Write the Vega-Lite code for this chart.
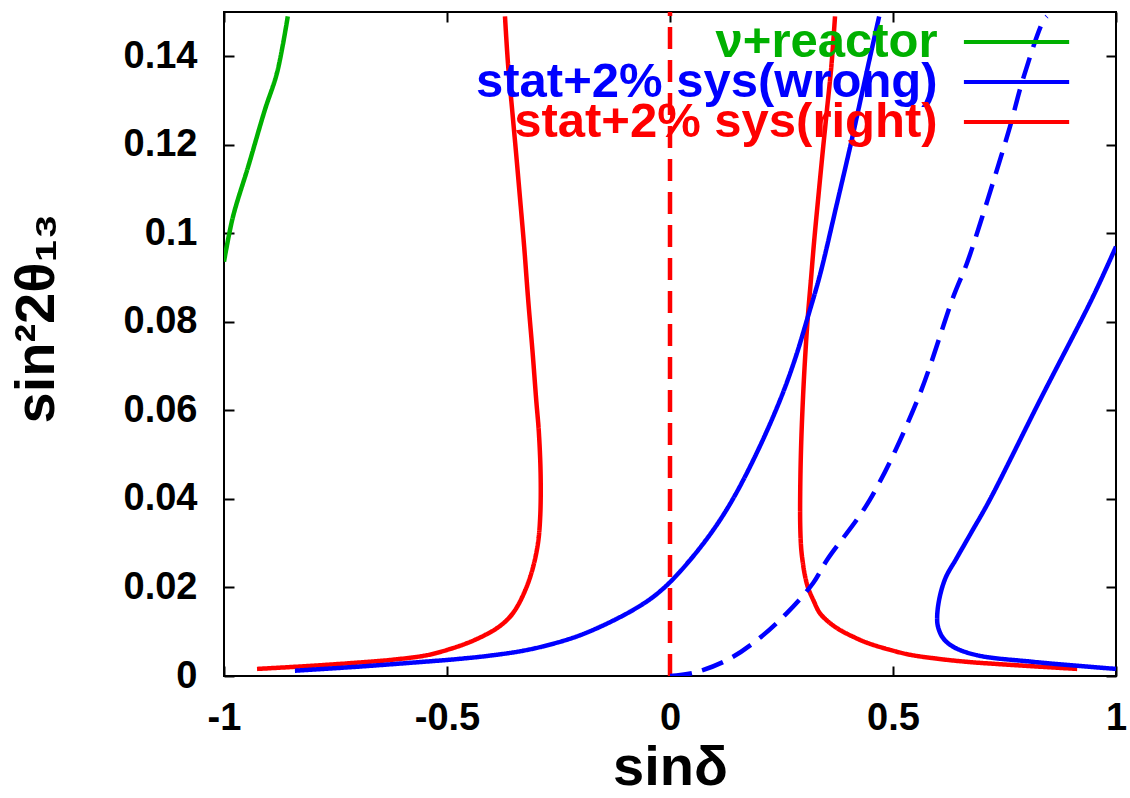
{
  "$schema": "https://vega.github.io/schema/vega-lite/v6.json",
  "autosize": {"type": "none"},
  "padding": {"left": 224, "top": 12, "right": 14, "bottom": 122},
  "width": 892,
  "height": 664,
  "background": "white",
  "config": {
    "view": {"stroke": "#000000", "strokeWidth": 2},
    "axis": {
      "grid": false,
      "domain": false,
      "tickSize": -10,
      "tickWidth": 2,
      "tickColor": "#000000",
      "labelFont": "Liberation Sans",
      "labelFontSize": 38,
      "labelFontWeight": "bold",
      "labelColor": "#000000",
      "titleFont": "Liberation Sans",
      "titleFontSize": 56,
      "titleFontWeight": "bold",
      "titleColor": "#000000"
    }
  },
  "datasets": {
    "key": [
      {"series": "ν+reactor"},
      {"series": "stat+2% sys(wrong)"},
      {"series": "stat+2% sys(right)"}
    ],
    "curves": [
      {"part": "g", "series": "ν+reactor", "style": "solid", "i": 0, "x": -1.0, "y": 0.0936},
      {"part": "g", "series": "ν+reactor", "style": "solid", "i": 1, "x": -0.98, "y": 0.1037},
      {"part": "g", "series": "ν+reactor", "style": "solid", "i": 2, "x": -0.946, "y": 0.115},
      {"part": "g", "series": "ν+reactor", "style": "solid", "i": 3, "x": -0.908, "y": 0.128},
      {"part": "g", "series": "ν+reactor", "style": "solid", "i": 4, "x": -0.881, "y": 0.1363},
      {"part": "g", "series": "ν+reactor", "style": "solid", "i": 5, "x": -0.857, "y": 0.149},

      {"part": "rl", "series": "stat+2% sys(right)", "style": "solid", "i": 0, "x": -0.926, "y": 0.0016},
      {"part": "rl", "series": "stat+2% sys(right)", "style": "solid", "i": 1, "x": -0.82, "y": 0.0022},
      {"part": "rl", "series": "stat+2% sys(right)", "style": "solid", "i": 2, "x": -0.717, "y": 0.0029},
      {"part": "rl", "series": "stat+2% sys(right)", "style": "solid", "i": 3, "x": -0.62, "y": 0.0037},
      {"part": "rl", "series": "stat+2% sys(right)", "style": "solid", "i": 4, "x": -0.545, "y": 0.0047},
      {"part": "rl", "series": "stat+2% sys(right)", "style": "solid", "i": 5, "x": -0.49, "y": 0.0062},
      {"part": "rl", "series": "stat+2% sys(right)", "style": "solid", "i": 6, "x": -0.448, "y": 0.0077},
      {"part": "rl", "series": "stat+2% sys(right)", "style": "solid", "i": 7, "x": -0.41, "y": 0.0095},
      {"part": "rl", "series": "stat+2% sys(right)", "style": "solid", "i": 8, "x": -0.388, "y": 0.0108},
      {"part": "rl", "series": "stat+2% sys(right)", "style": "solid", "i": 9, "x": -0.362, "y": 0.013},
      {"part": "rl", "series": "stat+2% sys(right)", "style": "solid", "i": 10, "x": -0.343, "y": 0.0156},
      {"part": "rl", "series": "stat+2% sys(right)", "style": "solid", "i": 11, "x": -0.322, "y": 0.02},
      {"part": "rl", "series": "stat+2% sys(right)", "style": "solid", "i": 12, "x": -0.307, "y": 0.0246},
      {"part": "rl", "series": "stat+2% sys(right)", "style": "solid", "i": 13, "x": -0.296, "y": 0.03},
      {"part": "rl", "series": "stat+2% sys(right)", "style": "solid", "i": 14, "x": -0.291, "y": 0.036},
      {"part": "rl", "series": "stat+2% sys(right)", "style": "solid", "i": 15, "x": -0.29, "y": 0.045},
      {"part": "rl", "series": "stat+2% sys(right)", "style": "solid", "i": 16, "x": -0.294, "y": 0.055},
      {"part": "rl", "series": "stat+2% sys(right)", "style": "solid", "i": 17, "x": -0.3, "y": 0.0624},
      {"part": "rl", "series": "stat+2% sys(right)", "style": "solid", "i": 18, "x": -0.308, "y": 0.073},
      {"part": "rl", "series": "stat+2% sys(right)", "style": "solid", "i": 19, "x": -0.318, "y": 0.085},
      {"part": "rl", "series": "stat+2% sys(right)", "style": "solid", "i": 20, "x": -0.327, "y": 0.097},
      {"part": "rl", "series": "stat+2% sys(right)", "style": "solid", "i": 21, "x": -0.336, "y": 0.1076},
      {"part": "rl", "series": "stat+2% sys(right)", "style": "solid", "i": 22, "x": -0.345, "y": 0.118},
      {"part": "rl", "series": "stat+2% sys(right)", "style": "solid", "i": 23, "x": -0.354, "y": 0.128},
      {"part": "rl", "series": "stat+2% sys(right)", "style": "solid", "i": 24, "x": -0.363, "y": 0.138},
      {"part": "rl", "series": "stat+2% sys(right)", "style": "solid", "i": 25, "x": -0.37, "y": 0.149},

      {"part": "rr", "series": "stat+2% sys(right)", "style": "solid", "i": 0, "x": 0.37, "y": 0.149},
      {"part": "rr", "series": "stat+2% sys(right)", "style": "solid", "i": 1, "x": 0.362, "y": 0.138},
      {"part": "rr", "series": "stat+2% sys(right)", "style": "solid", "i": 2, "x": 0.352, "y": 0.128},
      {"part": "rr", "series": "stat+2% sys(right)", "style": "solid", "i": 3, "x": 0.342, "y": 0.118},
      {"part": "rr", "series": "stat+2% sys(right)", "style": "solid", "i": 4, "x": 0.332, "y": 0.1076},
      {"part": "rr", "series": "stat+2% sys(right)", "style": "solid", "i": 5, "x": 0.323, "y": 0.098},
      {"part": "rr", "series": "stat+2% sys(right)", "style": "solid", "i": 6, "x": 0.316, "y": 0.0895},
      {"part": "rr", "series": "stat+2% sys(right)", "style": "solid", "i": 7, "x": 0.309, "y": 0.0811},
      {"part": "rr", "series": "stat+2% sys(right)", "style": "solid", "i": 8, "x": 0.303, "y": 0.072},
      {"part": "rr", "series": "stat+2% sys(right)", "style": "solid", "i": 9, "x": 0.298, "y": 0.0624},
      {"part": "rr", "series": "stat+2% sys(right)", "style": "solid", "i": 10, "x": 0.294, "y": 0.052},
      {"part": "rr", "series": "stat+2% sys(right)", "style": "solid", "i": 11, "x": 0.292, "y": 0.042},
      {"part": "rr", "series": "stat+2% sys(right)", "style": "solid", "i": 12, "x": 0.292, "y": 0.034},
      {"part": "rr", "series": "stat+2% sys(right)", "style": "solid", "i": 13, "x": 0.294, "y": 0.029},
      {"part": "rr", "series": "stat+2% sys(right)", "style": "solid", "i": 14, "x": 0.297, "y": 0.0262},
      {"part": "rr", "series": "stat+2% sys(right)", "style": "solid", "i": 15, "x": 0.302, "y": 0.023},
      {"part": "rr", "series": "stat+2% sys(right)", "style": "solid", "i": 16, "x": 0.309, "y": 0.0201},
      {"part": "rr", "series": "stat+2% sys(right)", "style": "solid", "i": 17, "x": 0.322, "y": 0.017},
      {"part": "rr", "series": "stat+2% sys(right)", "style": "solid", "i": 18, "x": 0.336, "y": 0.0142},
      {"part": "rr", "series": "stat+2% sys(right)", "style": "solid", "i": 19, "x": 0.357, "y": 0.0121},
      {"part": "rr", "series": "stat+2% sys(right)", "style": "solid", "i": 20, "x": 0.381, "y": 0.0104},
      {"part": "rr", "series": "stat+2% sys(right)", "style": "solid", "i": 21, "x": 0.41, "y": 0.0089},
      {"part": "rr", "series": "stat+2% sys(right)", "style": "solid", "i": 22, "x": 0.442, "y": 0.0075},
      {"part": "rr", "series": "stat+2% sys(right)", "style": "solid", "i": 23, "x": 0.49, "y": 0.006},
      {"part": "rr", "series": "stat+2% sys(right)", "style": "solid", "i": 24, "x": 0.538, "y": 0.0048},
      {"part": "rr", "series": "stat+2% sys(right)", "style": "solid", "i": 25, "x": 0.6, "y": 0.0039},
      {"part": "rr", "series": "stat+2% sys(right)", "style": "solid", "i": 26, "x": 0.666, "y": 0.0032},
      {"part": "rr", "series": "stat+2% sys(right)", "style": "solid", "i": 27, "x": 0.75, "y": 0.0026},
      {"part": "rr", "series": "stat+2% sys(right)", "style": "solid", "i": 28, "x": 0.83, "y": 0.0021},
      {"part": "rr", "series": "stat+2% sys(right)", "style": "solid", "i": 29, "x": 0.913, "y": 0.0016},

      {"part": "rd", "series": "stat+2% sys(right)", "style": "dashed", "i": 0, "x": 0.0, "y": 0.0},
      {"part": "rd", "series": "stat+2% sys(right)", "style": "dashed", "i": 1, "x": 0.0, "y": 0.15},

      {"part": "bs", "series": "stat+2% sys(wrong)", "style": "solid", "i": 0, "x": -0.841, "y": 0.0012},
      {"part": "bs", "series": "stat+2% sys(wrong)", "style": "solid", "i": 1, "x": -0.7, "y": 0.0021},
      {"part": "bs", "series": "stat+2% sys(wrong)", "style": "solid", "i": 2, "x": -0.567, "y": 0.0031},
      {"part": "bs", "series": "stat+2% sys(wrong)", "style": "solid", "i": 3, "x": -0.48, "y": 0.0038},
      {"part": "bs", "series": "stat+2% sys(wrong)", "style": "solid", "i": 4, "x": -0.404, "y": 0.0046},
      {"part": "bs", "series": "stat+2% sys(wrong)", "style": "solid", "i": 5, "x": -0.33, "y": 0.0057},
      {"part": "bs", "series": "stat+2% sys(wrong)", "style": "solid", "i": 6, "x": -0.269, "y": 0.0071},
      {"part": "bs", "series": "stat+2% sys(wrong)", "style": "solid", "i": 7, "x": -0.21, "y": 0.0089},
      {"part": "bs", "series": "stat+2% sys(wrong)", "style": "solid", "i": 8, "x": -0.157, "y": 0.0111},
      {"part": "bs", "series": "stat+2% sys(wrong)", "style": "solid", "i": 9, "x": -0.09, "y": 0.0145},
      {"part": "bs", "series": "stat+2% sys(wrong)", "style": "solid", "i": 10, "x": -0.04, "y": 0.0177},
      {"part": "bs", "series": "stat+2% sys(wrong)", "style": "solid", "i": 11, "x": 0.0, "y": 0.0212},
      {"part": "bs", "series": "stat+2% sys(wrong)", "style": "solid", "i": 12, "x": 0.045, "y": 0.0262},
      {"part": "bs", "series": "stat+2% sys(wrong)", "style": "solid", "i": 13, "x": 0.095, "y": 0.0327},
      {"part": "bs", "series": "stat+2% sys(wrong)", "style": "solid", "i": 14, "x": 0.14, "y": 0.0398},
      {"part": "bs", "series": "stat+2% sys(wrong)", "style": "solid", "i": 15, "x": 0.195, "y": 0.0505},
      {"part": "bs", "series": "stat+2% sys(wrong)", "style": "solid", "i": 16, "x": 0.247, "y": 0.0624},
      {"part": "bs", "series": "stat+2% sys(wrong)", "style": "solid", "i": 17, "x": 0.28, "y": 0.0715},
      {"part": "bs", "series": "stat+2% sys(wrong)", "style": "solid", "i": 18, "x": 0.309, "y": 0.0811},
      {"part": "bs", "series": "stat+2% sys(wrong)", "style": "solid", "i": 19, "x": 0.336, "y": 0.0905},
      {"part": "bs", "series": "stat+2% sys(wrong)", "style": "solid", "i": 20, "x": 0.374, "y": 0.1066},
      {"part": "bs", "series": "stat+2% sys(wrong)", "style": "solid", "i": 21, "x": 0.405, "y": 0.12},
      {"part": "bs", "series": "stat+2% sys(wrong)", "style": "solid", "i": 22, "x": 0.428, "y": 0.1305},
      {"part": "bs", "series": "stat+2% sys(wrong)", "style": "solid", "i": 23, "x": 0.45, "y": 0.1405},
      {"part": "bs", "series": "stat+2% sys(wrong)", "style": "solid", "i": 24, "x": 0.469, "y": 0.149},

      {"part": "bd", "series": "stat+2% sys(wrong)", "style": "dashed", "i": 0, "x": 0.0, "y": 0.0},
      {"part": "bd", "series": "stat+2% sys(wrong)", "style": "dashed", "i": 1, "x": 0.052, "y": 0.0007},
      {"part": "bd", "series": "stat+2% sys(wrong)", "style": "dashed", "i": 2, "x": 0.128, "y": 0.0036},
      {"part": "bd", "series": "stat+2% sys(wrong)", "style": "dashed", "i": 3, "x": 0.195, "y": 0.0081},
      {"part": "bd", "series": "stat+2% sys(wrong)", "style": "dashed", "i": 4, "x": 0.262, "y": 0.0142},
      {"part": "bd", "series": "stat+2% sys(wrong)", "style": "dashed", "i": 5, "x": 0.321, "y": 0.021},
      {"part": "bd", "series": "stat+2% sys(wrong)", "style": "dashed", "i": 6, "x": 0.352, "y": 0.0262},
      {"part": "bd", "series": "stat+2% sys(wrong)", "style": "dashed", "i": 7, "x": 0.448, "y": 0.0398},
      {"part": "bd", "series": "stat+2% sys(wrong)", "style": "dashed", "i": 8, "x": 0.555, "y": 0.0624},
      {"part": "bd", "series": "stat+2% sys(wrong)", "style": "dashed", "i": 9, "x": 0.635, "y": 0.0856},
      {"part": "bd", "series": "stat+2% sys(wrong)", "style": "dashed", "i": 10, "x": 0.666, "y": 0.0933},
      {"part": "bd", "series": "stat+2% sys(wrong)", "style": "dashed", "i": 11, "x": 0.7, "y": 0.1037},
      {"part": "bd", "series": "stat+2% sys(wrong)", "style": "dashed", "i": 12, "x": 0.724, "y": 0.1114},
      {"part": "bd", "series": "stat+2% sys(wrong)", "style": "dashed", "i": 13, "x": 0.762, "y": 0.124},
      {"part": "bd", "series": "stat+2% sys(wrong)", "style": "dashed", "i": 14, "x": 0.791, "y": 0.1347},
      {"part": "bd", "series": "stat+2% sys(wrong)", "style": "dashed", "i": 15, "x": 0.836, "y": 0.1478},
      {"part": "bd", "series": "stat+2% sys(wrong)", "style": "dashed", "i": 16, "x": 0.845, "y": 0.149},

      {"part": "br", "series": "stat+2% sys(wrong)", "style": "solid", "i": 0, "x": 1.0, "y": 0.0016},
      {"part": "br", "series": "stat+2% sys(wrong)", "style": "solid", "i": 1, "x": 0.814, "y": 0.0032},
      {"part": "br", "series": "stat+2% sys(wrong)", "style": "solid", "i": 2, "x": 0.688, "y": 0.0047},
      {"part": "br", "series": "stat+2% sys(wrong)", "style": "solid", "i": 3, "x": 0.635, "y": 0.0066},
      {"part": "br", "series": "stat+2% sys(wrong)", "style": "solid", "i": 4, "x": 0.612, "y": 0.0086},
      {"part": "br", "series": "stat+2% sys(wrong)", "style": "solid", "i": 5, "x": 0.601, "y": 0.0111},
      {"part": "br", "series": "stat+2% sys(wrong)", "style": "solid", "i": 6, "x": 0.599, "y": 0.0133},
      {"part": "br", "series": "stat+2% sys(wrong)", "style": "solid", "i": 7, "x": 0.604, "y": 0.0175},
      {"part": "br", "series": "stat+2% sys(wrong)", "style": "solid", "i": 8, "x": 0.618, "y": 0.0222},
      {"part": "br", "series": "stat+2% sys(wrong)", "style": "solid", "i": 9, "x": 0.642, "y": 0.0265},
      {"part": "br", "series": "stat+2% sys(wrong)", "style": "solid", "i": 10, "x": 0.676, "y": 0.0325},
      {"part": "br", "series": "stat+2% sys(wrong)", "style": "solid", "i": 11, "x": 0.717, "y": 0.0398},
      {"part": "br", "series": "stat+2% sys(wrong)", "style": "solid", "i": 12, "x": 0.83, "y": 0.0624},
      {"part": "br", "series": "stat+2% sys(wrong)", "style": "solid", "i": 13, "x": 0.948, "y": 0.0856},
      {"part": "br", "series": "stat+2% sys(wrong)", "style": "solid", "i": 14, "x": 1.0, "y": 0.097}
    ]
  },
  "layer": [
    {
      "data": {"name": "curves"},
      "mark": {"type": "line", "strokeWidth": 4.5, "interpolate": "catmull-rom", "clip": true},
      "encoding": {
        "x": {
          "field": "x", "type": "quantitative",
          "scale": {"domain": [-1, 1], "nice": false, "zero": false},
          "axis": {
            "orient": "bottom",
            "values": [-1, -0.5, 0, 0.5, 1],
            "labelExpr": "'' + datum.value",
            "labelPadding": 33,
            "labelFlush": false,
            "title": "sinδ",
            "titleBaseline": "alphabetic",
            "titleY": 108
          }
        },
        "y": {
          "field": "y", "type": "quantitative",
          "scale": {"domain": [0, 0.15], "nice": false},
          "axis": {
            "orient": "left",
            "values": [0, 0.02, 0.04, 0.06, 0.08, 0.1, 0.12, 0.14],
            "labelExpr": "'' + datum.value",
            "labelPadding": 37,
            "labelFlush": false,
            "title": "sin²2θ₁₃",
            "titleBaseline": "alphabetic",
            "titleAngle": -90,
            "titleX": -171,
            "titleY": 306
          }
        },
        "color": {
          "field": "series", "type": "nominal",
          "scale": {
            "domain": ["ν+reactor", "stat+2% sys(wrong)", "stat+2% sys(right)"],
            "range": ["#00b000", "#0000ff", "#ff0000"]
          },
          "legend": null
        },
        "strokeDash": {
          "field": "style", "type": "nominal",
          "scale": {"domain": ["solid", "dashed"], "range": [[1, 0], [22, 11]]},
          "legend": null
        },
        "detail": {"field": "part"},
        "order": {"field": "i", "type": "quantitative"}
      }
    },
    {
      "data": {"name": "curves"},
      "mark": {"type": "point", "opacity": 0},
      "encoding": {
        "x": {
          "field": "x", "type": "quantitative",
          "scale": {"domain": [-1, 1], "nice": false, "zero": false},
          "axis": {"orient": "top", "values": [-1, -0.5, 0, 0.5, 1], "labels": false, "title": null}
        },
        "y": {
          "field": "y", "type": "quantitative",
          "scale": {"domain": [0, 0.15], "nice": false},
          "axis": {"orient": "right", "values": [0, 0.02, 0.04, 0.06, 0.08, 0.1, 0.12, 0.14], "labels": false, "title": null}
        }
      }
    },
    {
      "data": {"name": "key"},
      "mark": {"type": "text", "align": "right", "baseline": "middle", "font": "Liberation Sans", "fontSize": 49, "fontWeight": "bold"},
      "encoding": {
        "x": {"datum": 0.6, "type": "quantitative", "axis": null},
        "y": {
          "field": "series", "type": "nominal",
          "scale": {"domain": ["ν+reactor", "stat+2% sys(wrong)", "stat+2% sys(right)"], "type": "point", "range": [30, 110], "padding": 0},
          "axis": null
        },
        "text": {"field": "series"},
        "color": {"field": "series", "type": "nominal", "legend": null}
      }
    },
    {
      "data": {"name": "key"},
      "mark": {"type": "rule", "strokeWidth": 4},
      "encoding": {
        "x": {"datum": 0.659, "type": "quantitative", "axis": null},
        "x2": {"datum": 0.895},
        "y": {
          "field": "series", "type": "nominal",
          "scale": {"domain": ["ν+reactor", "stat+2% sys(wrong)", "stat+2% sys(right)"], "type": "point", "range": [30, 110], "padding": 0},
          "axis": null
        },
        "color": {"field": "series", "type": "nominal", "legend": null}
      }
    }
  ],
  "resolve": {
    "scale": {"y": "independent"},
    "axis": {"x": "independent", "y": "independent"}
  }
}
